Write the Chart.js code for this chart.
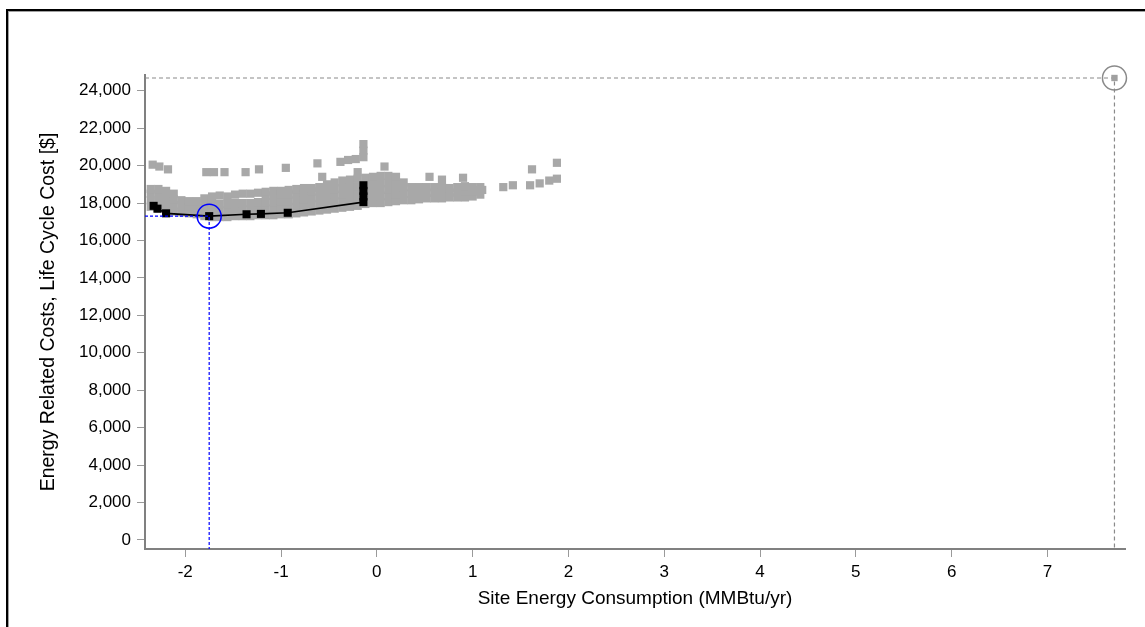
<!DOCTYPE html>
<html>
<head>
<meta charset="utf-8">
<title>Life Cycle Cost vs Site Energy</title>
<script src="https://cdn.jsdelivr.net/npm/chart.js@4/dist/chart.umd.min.js"></script>
<style>
  html, body { margin: 0; padding: 0; background: #fff; }
  #wrap { width: 1145px; height: 627px; }
</style>
</head>
<body>
<div id="wrap"><canvas id="myChart" width="1145" height="627"></canvas></div>
<script>
// axis ticks
let xTicks = [-2, -1, 0, 1, 2, 3, 4, 5, 6, 7];
let yTicks = [0, 2000, 4000, 6000, 8000, 10000, 12000, 14000, 16000, 18000, 20000, 22000, 24000];

// all simulated runs (site energy MMBtu/yr, life cycle cost $)
let otherRuns = [
  [-2.36,17800],[-2.36,18150],[-2.36,18500],[-2.36,18750],
  [-2.28,17700],[-2.28,18050],[-2.28,18400],[-2.28,18750],
  [-2.20,17600],[-2.20,17950],[-2.20,18300],[-2.20,18650],
  [-2.12,17550],[-2.12,17900],[-2.12,18200],[-2.12,18500],
  [-2.04,17500],[-2.04,17800],[-2.04,18150],
  [-1.96,17450],[-1.96,17800],[-1.96,18100],
  [-1.88,17400],[-1.88,17750],[-1.88,18100],
  [-1.80,17300],[-1.80,17650],[-1.80,18000],[-1.80,18250],
  [-1.72,17250],[-1.72,17600],[-1.72,17950],[-1.72,18350],
  [-1.64,17250],[-1.64,17600],[-1.64,17950],[-1.64,18400],
  [-1.56,17250],[-1.56,17600],[-1.56,17950],[-1.56,18350],
  [-1.48,17300],[-1.48,17650],[-1.48,18000],[-1.48,18450],
  [-1.40,17300],[-1.40,17650],[-1.40,18000],[-1.40,18500],
  [-1.32,17300],[-1.32,17650],[-1.32,18000],[-1.32,18500],
  [-1.24,17350],[-1.24,17700],[-1.24,18050],[-1.24,18550],
  [-1.16,17350],[-1.16,17700],[-1.16,18050],[-1.16,18400],[-1.16,18600],
  [-1.08,17350],[-1.08,17700],[-1.08,18050],[-1.08,18400],[-1.08,18650],
  [-1.00,17400],[-1.00,17750],[-1.00,18100],[-1.00,18450],[-1.00,18650],
  [-0.92,17400],[-0.92,17750],[-0.92,18100],[-0.92,18450],[-0.92,18700],
  [-0.84,17450],[-0.84,17800],[-0.84,18150],[-0.84,18500],[-0.84,18750],
  [-0.76,17500],[-0.76,17850],[-0.76,18200],[-0.76,18550],[-0.76,18800],
  [-0.68,17550],[-0.68,17900],[-0.68,18250],[-0.68,18600],[-0.68,18800],
  [-0.60,17600],[-0.60,17950],[-0.60,18300],[-0.60,18650],[-0.60,18850],
  [-0.52,17650],[-0.52,18000],[-0.52,18350],[-0.52,18700],[-0.52,19000],
  [-0.44,17700],[-0.44,18050],[-0.44,18400],[-0.44,18750],[-0.44,19100],
  [-0.36,17750],[-0.36,18100],[-0.36,18450],[-0.36,18800],[-0.36,19200],
  [-0.28,17800],[-0.28,18150],[-0.28,18500],[-0.28,18850],[-0.28,19250],
  [-0.20,17850],[-0.20,18200],[-0.20,18550],[-0.20,18900],[-0.20,19300],[-0.20,19650],
  [-0.12,17950],[-0.12,18300],[-0.12,18650],[-0.12,19000],[-0.12,19350],
  [-0.04,18000],[-0.04,18350],[-0.04,18700],[-0.04,19050],[-0.04,19400],
  [0.04,18000],[0.04,18350],[0.04,18700],[0.04,19050],[0.04,19450],
  [0.12,18050],[0.12,18400],[0.12,18750],[0.12,19100],[0.12,19450],
  [0.20,18100],[0.20,18450],[0.20,18800],[0.20,19100],[0.20,19400],
  [0.28,18150],[0.28,18500],[0.28,18850],[0.28,19100],
  [0.36,18150],[0.36,18500],[0.36,18850],
  [0.44,18200],[0.44,18500],[0.44,18850],
  [0.52,18250],[0.52,18550],[0.52,18850],
  [0.60,18250],[0.60,18550],[0.60,18850],
  [0.68,18250],[0.68,18550],[0.68,18850],
  [0.76,18300],[0.76,18550],[0.76,18800],
  [0.84,18300],[0.84,18550],[0.84,18850],
  [0.92,18300],[0.92,18600],[0.92,18900],
  [1.00,18350],[1.00,18600],[1.00,18850],
  [1.08,18450],[1.08,18700],[1.08,18850]
];

// scattered runs above / right of the main cloud
let strayRuns = [
  [-2.34,20050],[-2.27,19950],[-2.18,19800],
  [-1.78,19650],[-1.70,19650],[-1.59,19650],
  [-1.37,19650],[-1.23,19800],[-0.95,19880],
  [-0.62,20120],[-0.57,19400],
  [-0.38,20200],[-0.30,20300],[-0.22,20350],[-0.14,20450],[-0.14,20800],[-0.14,21150],
  [0.08,19950],[0.55,19400],[0.68,19250],[0.90,19350],
  [1.10,18700],[1.32,18850],[1.42,18950],
  [1.60,18950],[1.70,19050],[1.80,19200],[1.88,19300],
  [1.62,19800],[1.88,20150]
];

// least-cost curve
let paretoX = [-2.33, -2.29, -2.20, -1.75, -1.36, -1.21, -0.93, -0.14];
let paretoY = [17850, 17700, 17450, 17300, 17400, 17420, 17480, 18050];

// runs stacked at the last curve point
let stackX = [-0.14, -0.14, -0.14];
let stackY = [18350, 18650, 18950];

// selected optimum and reference case
let optimum = [-1.75, 17300];
let reference = [7.70, 24680];

let xMin = -2.42, xMax = 7.81;
let yMin = -481, yMax = 24840;

let toPts = (xs, ys) => xs.map((x, i) => ({x: x, y: ys[i]}));
let pairs = (arr) => arr.map(p => ({x: p[0], y: p[1]}));

let fontFamily = '"Liberation Sans", Arial, sans-serif';

// frame round the chart panel
let framePlugin = {
  id: 'frame',
  beforeDraw(chart) {
    let c = chart.ctx;
    c.save();
    c.fillStyle = '#fff';
    c.fillRect(0, 0, chart.width, chart.height);
    c.fillStyle = '#a0a0a0';
    c.fillRect(8, 11, chart.width - 8, 1);
    c.fillRect(8, 11, 1, chart.height - 11);
    c.fillStyle = '#000';
    c.fillRect(6, 9, chart.width - 6, 2);
    c.fillRect(6, 9, 2, chart.height - 9);
    c.restore();
  }
};

let ctx = document.getElementById('myChart').getContext('2d');

let chart = new Chart(ctx, {
  type: 'scatter',
  data: {
    datasets: [
      {
        // selected point marker
        data: [{x: optimum[0], y: optimum[1]}],
        pointStyle: 'circle',
        pointRadius: 12,
        pointBackgroundColor: 'rgba(0,0,0,0)',
        pointBorderColor: '#0000ff',
        pointBorderWidth: 1.5,
        clip: false,
        order: 0
      },
      {
        data: [{x: reference[0], y: reference[1]}],
        pointStyle: 'circle',
        pointRadius: 12,
        pointBackgroundColor: 'rgba(0,0,0,0)',
        pointBorderColor: '#8a8a8a',
        pointBorderWidth: 1.5,
        clip: false,
        order: 0
      },
      {
        data: [{x: reference[0], y: reference[1]}],
        pointStyle: 'rect',
        pointRadius: 4.5,
        pointBackgroundColor: '#a0a0a0',
        pointBorderWidth: 0,
        clip: false,
        order: 1
      },
      {
        // guide lines to the axes
        data: [{x: xMin, y: optimum[1]}, {x: optimum[0], y: optimum[1]}, {x: optimum[0], y: yMin}],
        showLine: true,
        borderColor: '#0000ff',
        borderWidth: 1.2,
        borderDash: [3, 2],
        pointRadius: 0,
        order: 2
      },
      {
        data: [{x: xMin, y: reference[1]}, {x: reference[0], y: reference[1]}, {x: reference[0], y: yMin}],
        showLine: true,
        borderColor: '#8a8a8a',
        borderWidth: 1.2,
        borderDash: [4, 3],
        pointRadius: 0,
        order: 2
      },
      {
        data: toPts(paretoX, paretoY),
        showLine: true,
        borderColor: '#000',
        borderWidth: 1.6,
        pointStyle: 'rect',
        pointRadius: 5.7,
        pointBackgroundColor: '#000',
        pointBorderWidth: 0,
        order: 3
      },
      {
        data: toPts(stackX, stackY),
        pointStyle: 'rect',
        pointRadius: 5.7,
        pointBackgroundColor: '#000',
        pointBorderWidth: 0,
        order: 3
      },
      {
        data: pairs(otherRuns).concat(pairs(strayRuns)),
        pointStyle: 'rect',
        pointRadius: 5.8,
        pointBackgroundColor: '#a8a8a8',
        pointBorderWidth: 0,
        order: 5
      }
    ]
  },
  options: {
    responsive: false,
    animation: false,
    events: [],
    layout: { padding: { top: 75, right: 20, left: 0, bottom: 0 } },
    plugins: {
      legend: { display: false },
      tooltip: { enabled: false }
    },
    scales: {
      x: {
        type: 'linear',
        min: xMin,
        max: xMax,
        afterBuildTicks: (axis) => { axis.ticks = xTicks.map(v => ({value: v})); },
        afterFit: (axis) => { axis.height = 78; },
        border: { color: '#808080', width: 2 },
        grid: { drawOnChartArea: false, drawTicks: true, tickLength: 8, color: '#9a9a9a' },
        ticks: {
          color: '#000',
          padding: 5,
          maxRotation: 0,
          font: { family: fontFamily, size: 17 },
          callback: (v) => String(v)
        },
        title: {
          display: true,
          text: 'Site Energy Consumption (MMBtu/yr)',
          color: '#000',
          font: { family: fontFamily, size: 19 },
          padding: { top: 0, bottom: 17 }
        }
      },
      y: {
        type: 'linear',
        min: yMin,
        max: yMax,
        afterBuildTicks: (axis) => { axis.ticks = yTicks.map(v => ({value: v})); },
        afterFit: (axis) => { axis.width = 145; },
        border: { color: '#808080', width: 2 },
        grid: { drawOnChartArea: false, drawTicks: true, tickLength: 8, color: '#9a9a9a' },
        ticks: {
          color: '#000',
          padding: 6,
          font: { family: fontFamily, size: 17 },
          callback: (v) => v.toLocaleString('en-US')
        },
        title: {
          display: true,
          text: 'Energy Related Costs, Life Cycle Cost [$]',
          color: '#000',
          font: { family: fontFamily, size: 19.5 },
          padding: { top: 37, bottom: 0 }
        }
      }
    }
  },
  plugins: [framePlugin]
});
</script>
</body>
</html>
